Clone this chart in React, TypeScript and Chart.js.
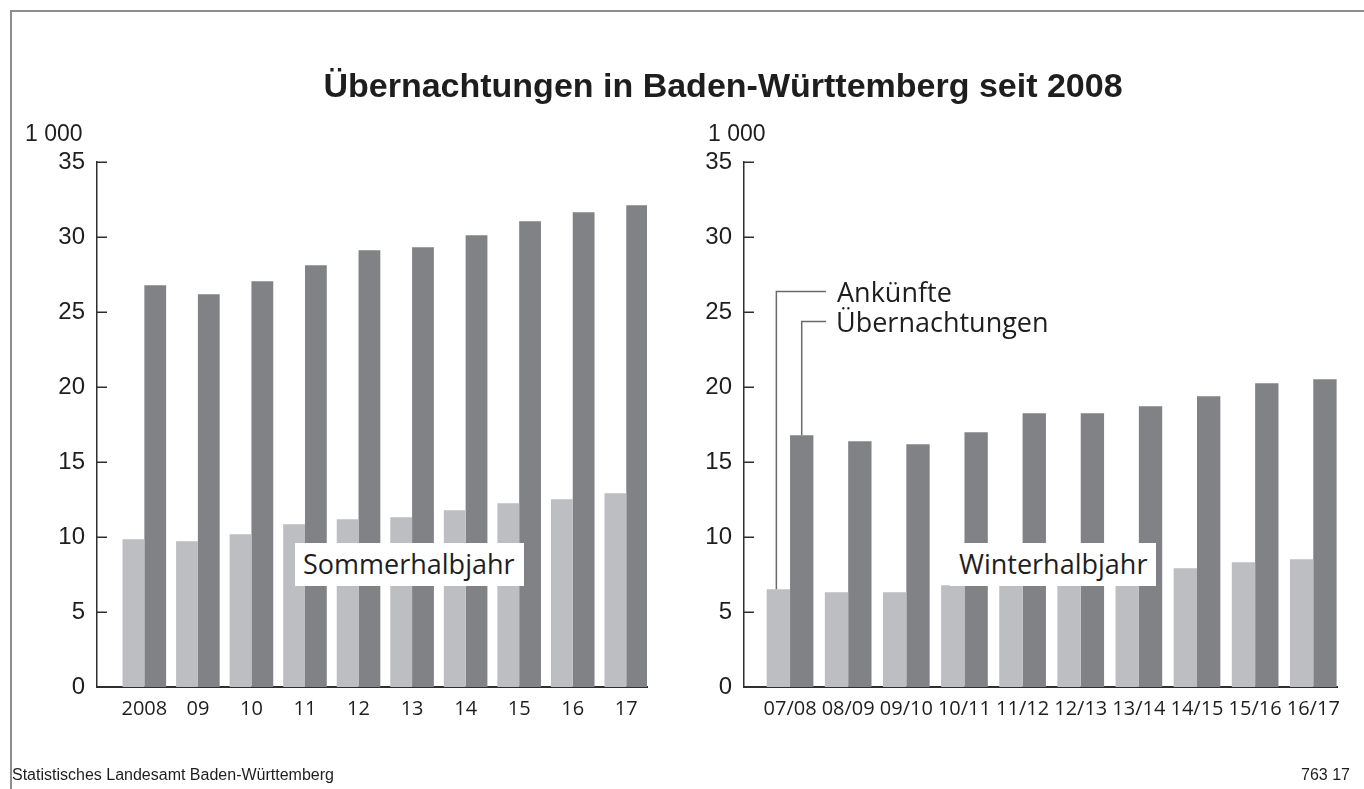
import React, { useEffect, useRef } from "react";
import { Chart, registerables } from "chart.js";

Chart.register(...registerables);

// ---- Data (thousands) ----
const summerCategories = ["2008", "09", "10", "11", "12", "13", "14", "15", "16", "17"];
const summerArrivals = [9.85, 9.71, 10.18, 10.85, 11.18, 11.31, 11.78, 12.25, 12.51, 12.91];
const summerOvernights = [26.78, 26.18, 27.05, 28.11, 29.11, 29.31, 30.11, 31.05, 31.65, 32.11];

const winterCategories = ["07/08", "08/09", "09/10", "10/11", "11/12", "12/13", "13/14", "14/15", "15/16", "16/17"];
const winterArrivals = [6.51, 6.31, 6.31, 6.78, 7.1, 7.2, 7.4, 7.91, 8.31, 8.51];
const winterOvernights = [16.78, 16.38, 16.18, 16.98, 18.25, 18.25, 18.71, 19.38, 20.25, 20.51];

const yMin = 0;
const yMax = 35;
const yStep = 5;

const seriesNames = ["Ankünfte", "Übernachtungen"];

// ---- Styles ----
const LIGHT = "#bdbec1";
const DARK = "#818286";
const AXIS = "#2e2e2e";
const TEXT = "#1e1e1e";
const LEADER = "#6a6a6a";
const CANVAS_W = 682;
const CANVAS_H = 789;
const TICK_FONT = "'Liberation Sans', Arial, sans-serif";
const LABEL_FONT = "'Open Sans', 'Liberation Sans', Arial, sans-serif";

const innerTicks = {
  id: "innerTicks",
  afterDraw(chart: any) {
    const { ctx, chartArea } = chart;
    const y = chart.scales.y;
    ctx.save();
    ctx.strokeStyle = AXIS;
    ctx.lineWidth = 1.5;
    y.ticks.forEach((t: any) => {
      if (t.value === 0) return;
      const py = Math.round(y.getPixelForValue(t.value)) + 0.25;
      ctx.beginPath();
      ctx.moveTo(chartArea.left, py);
      ctx.lineTo(chartArea.left + 10, py);
      ctx.stroke();
    });
    ctx.restore();
  },
};

const leaderLines = {
  id: "leaderLines",
  afterDraw(chart: any) {
    const { ctx } = chart;
    const a = chart.getDatasetMeta(0).data[0];
    const o = chart.getDatasetMeta(1).data[0];
    if (!a || !o) return;
    const endX = 826 - CANVAS_W;
    ctx.save();
    ctx.strokeStyle = LEADER;
    ctx.lineWidth = 1.5;
    ctx.beginPath();
    ctx.moveTo(a.x - 2, a.y);
    ctx.lineTo(a.x - 2, 291.5);
    ctx.lineTo(endX, 291.5);
    ctx.stroke();
    ctx.beginPath();
    ctx.moveTo(o.x, o.y);
    ctx.lineTo(o.x, 321.5);
    ctx.lineTo(endX, 321.5);
    ctx.stroke();
    ctx.restore();
  },
};

function makeConfig(
  cats: string[],
  arrivals: number[],
  overnights: number[],
  xMin: number,
  xMax: number,
  pct: number,
  yWidth: number,
  padRight: number,
  extraPlugins: any[]
): any {
  return {
    type: "bar",
    data: {
      datasets: [
        {
          label: seriesNames[0],
          data: cats.map((_, i) => ({ x: i, y: arrivals[i] })),
          backgroundColor: LIGHT,
          borderWidth: 0,
          categoryPercentage: pct,
          barPercentage: 1,
        },
        {
          label: seriesNames[1],
          data: cats.map((_, i) => ({ x: i, y: overnights[i] })),
          backgroundColor: DARK,
          borderWidth: 0,
          categoryPercentage: pct,
          barPercentage: 1,
        },
      ],
    },
    options: {
      responsive: false,
      animation: false,
      layout: { padding: { top: 162, right: padRight, left: 0, bottom: 0 } },
      plugins: {
        legend: { display: false },
        tooltip: { enabled: false },
        title: { display: false },
      },
      scales: {
        x: {
          type: "linear",
          offset: false,
          min: xMin,
          max: xMax,
          grid: { display: false, drawTicks: false, offset: false },
          border: { display: true, color: AXIS, width: 2 },
          afterBuildTicks: (s: any) => {
            s.ticks = cats.map((_, i) => ({ value: i }));
          },
          afterFit: (s: any) => {
            s.height = CANVAS_H - 687;
          },
          ticks: {
            autoSkip: false,
            maxRotation: 0,
            minRotation: 0,
            padding: 10,
            color: TEXT,
            font: { family: LABEL_FONT, size: 20 },
            callback: (v: number) => cats[Math.round(v)] ?? "",
          },
        },
        y: {
          min: yMin,
          max: yMax,
          grid: { display: false, drawTicks: false },
          border: { display: true, color: AXIS, width: 1.5 },
          afterFit: (s: any) => {
            s.width = yWidth;
          },
          ticks: {
            stepSize: yStep,
            padding: 12,
            color: TEXT,
            font: { family: TICK_FONT, size: 24 },
          },
        },
      },
    },
    plugins: [innerTicks, ...extraPlugins],
  };
}

function BarChart(props: { config: () => any; left: number }) {
  const ref = useRef<HTMLCanvasElement | null>(null);
  useEffect(() => {
    if (!ref.current) return;
    const chart = new Chart(ref.current, props.config());
    return () => chart.destroy();
  }, []);
  return (
    <canvas
      ref={ref}
      width={CANVAS_W}
      height={CANVAS_H}
      style={{ position: "absolute", left: props.left, top: 0, width: CANVAS_W, height: CANVAS_H }}
    />
  );
}

function Label(props: {
  text: string;
  left: number;
  centerY: number;
  size: number;
  font: string;
  weight?: number;
}) {
  return (
    <div
      style={{
        position: "absolute",
        left: props.left,
        top: props.centerY - props.size / 2,
        fontFamily: props.font,
        fontSize: props.size,
        lineHeight: `${props.size}px`,
        fontWeight: props.weight ?? 400,
        color: TEXT,
        whiteSpace: "nowrap",
      }}
    >
      {props.text}
    </div>
  );
}

export default function App() {
  return (
    <div
      style={{
        position: "absolute",
        left: 0,
        top: 0,
        width: 1364,
        height: 789,
        background: "#ffffff",
        overflow: "hidden",
      }}
    >
      <div
        style={{
          position: "absolute",
          left: 10,
          top: 10,
          width: 1354,
          height: 779,
          boxSizing: "border-box",
          borderTop: "2px solid #8d8d8d",
          borderLeft: "2px solid #8d8d8d",
        }}
      />
      <BarChart
        left={0}
        config={() =>
          makeConfig(summerCategories, summerArrivals, summerOvernights, -0.884, 9.387, 0.814, 97, CANVAS_W - 647, [])
        }
      />
      <BarChart
        left={CANVAS_W}
        config={() =>
          makeConfig(winterCategories, winterArrivals, winterOvernights, -0.792, 9.408, 0.803, 744 - CANVAS_W, CANVAS_W - (1337 - CANVAS_W), [leaderLines])
        }
      />
      <div
        style={{
          position: "absolute",
          left: 723,
          top: 68,
          transform: "translateX(-50%)",
          fontFamily: "'Liberation Sans', Arial, sans-serif",
          fontWeight: 700,
          fontSize: 34,
          lineHeight: "34px",
          color: TEXT,
          whiteSpace: "nowrap",
        }}
      >
        Übernachtungen in Baden-Württemberg seit 2008
      </div>
      <Label text="1 000" left={25} centerY={133} size={23} font={TICK_FONT} />
      <Label text="1 000" left={708} centerY={133} size={23} font={TICK_FONT} />

      <div style={{ position: "absolute", left: 295, top: 543, width: 229, height: 43, background: "#ffffff" }} />
      <Label text="Sommerhalbjahr" left={303} centerY={563} size={27} font={LABEL_FONT} />
      <div style={{ position: "absolute", left: 950, top: 543, width: 206, height: 43, background: "#ffffff" }} />
      <Label text="Winterhalbjahr" left={959} centerY={563} size={27} font={LABEL_FONT} />

      <Label text="Ankünfte" left={837} centerY={291} size={27} font={LABEL_FONT} />
      <Label text="Übernachtungen" left={836} centerY={321} size={27} font={LABEL_FONT} />

      <Label text="Statistisches Landesamt Baden-Württemberg" left={12} centerY={775} size={16} font="'Liberation Sans', Arial, sans-serif" />
      <div
        style={{
          position: "absolute",
          right: 14,
          top: 767,
          fontFamily: "'Liberation Sans', Arial, sans-serif",
          fontSize: 16,
          lineHeight: "16px",
          color: TEXT,
        }}
      >
        763 17
      </div>
    </div>
  );
}
